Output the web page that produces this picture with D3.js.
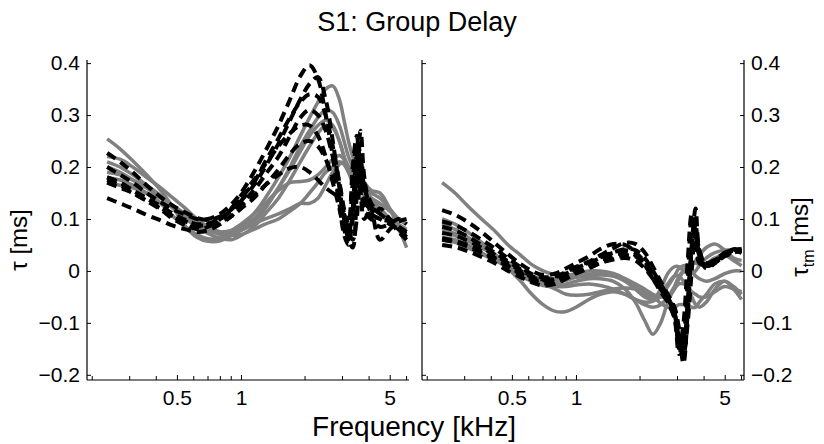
<!DOCTYPE html>
<html><head><meta charset="utf-8">
<script src="https://cdn.jsdelivr.net/npm/d3@7"></script>
<style>body{margin:0;background:#fff}svg{display:block}text{font-family:"Liberation Sans",Arial,sans-serif;fill:#000}</style>
</head><body>
<svg id="c" width="824" height="444"></svg>
<script>
const title = "S1: Group Delay";
const xLabel = "Frequency [kHz]";
const freq = [0.235,0.27,0.31,0.36,0.42,0.48,0.55,0.62,0.7,0.8,0.9,1.0,1.15,1.3,1.5,1.7,1.9,2.1,2.3,2.5,2.7,2.9,3.05,3.2,3.35,3.5,3.65,3.8,4.1,4.5,5.0,5.5,6.0];
const yTicks = [-0.2,-0.1,0,0.1,0.2,0.3,0.4];
const xMajor = [0.5,1,5];
const xMinor = [0.2,0.3,0.4,0.6,0.7,0.8,0.9,2,3,4,6];

const leftSolid = [
 [0.254,0.235,0.212,0.185,0.155,0.122,0.085,0.065,0.057,0.058,0.068,0.085,0.11,0.14,0.18,0.22,0.26,0.295,0.325,0.35,0.356,0.33,0.29,0.25,0.22,0.2,0.18,0.17,0.155,0.15,0.12,0.085,0.06],
 [0.22,0.215,0.2,0.18,0.16,0.14,0.12,0.1,0.085,0.075,0.072,0.078,0.095,0.12,0.16,0.2,0.24,0.27,0.295,0.31,0.305,0.28,0.25,0.22,0.2,0.18,0.16,0.15,0.135,0.12,0.1,0.08,0.07],
 [0.21,0.2,0.185,0.165,0.145,0.125,0.105,0.09,0.078,0.072,0.075,0.085,0.1,0.125,0.16,0.195,0.23,0.26,0.28,0.29,0.28,0.25,0.22,0.2,0.18,0.17,0.155,0.145,0.13,0.11,0.095,0.085,0.075],
 [0.2,0.19,0.175,0.16,0.14,0.12,0.1,0.085,0.072,0.063,0.06,0.068,0.085,0.11,0.14,0.175,0.21,0.24,0.265,0.28,0.275,0.25,0.22,0.19,0.17,0.15,0.14,0.13,0.12,0.11,0.1,0.09,0.08],
 [0.19,0.185,0.175,0.16,0.145,0.125,0.105,0.09,0.08,0.075,0.078,0.09,0.11,0.13,0.155,0.17,0.172,0.175,0.185,0.2,0.215,0.222,0.215,0.2,0.185,0.175,0.165,0.16,0.15,0.14,0.12,0.1,0.09],
 [0.18,0.175,0.165,0.15,0.13,0.105,0.085,0.07,0.062,0.063,0.07,0.078,0.09,0.1,0.11,0.12,0.13,0.13,0.14,0.165,0.19,0.205,0.21,0.2,0.19,0.18,0.17,0.16,0.14,0.12,0.1,0.08,0.045],
 [0.17,0.165,0.16,0.15,0.14,0.125,0.11,0.095,0.08,0.07,0.068,0.07,0.08,0.09,0.1,0.115,0.13,0.15,0.17,0.19,0.2,0.21,0.205,0.19,0.18,0.17,0.16,0.15,0.14,0.13,0.115,0.1,0.09]
];
const leftDashed = [
 [0.2,0.185,0.17,0.15,0.132,0.118,0.108,0.1,0.1,0.11,0.128,0.15,0.19,0.23,0.28,0.33,0.375,0.396,0.37,0.3,0.22,0.13,0.07,0.05,0.12,0.22,0.15,0.1,0.12,0.11,0.1,0.085,0.07],
 [0.227,0.21,0.19,0.165,0.142,0.125,0.112,0.102,0.098,0.105,0.118,0.135,0.165,0.2,0.245,0.29,0.33,0.36,0.373,0.33,0.25,0.16,0.1,0.06,0.045,0.15,0.27,0.18,0.11,0.1,0.09,0.08,0.065],
 [0.18,0.17,0.155,0.14,0.125,0.11,0.098,0.09,0.092,0.1,0.115,0.13,0.155,0.185,0.22,0.26,0.295,0.31,0.3,0.27,0.22,0.17,0.12,0.09,0.2,0.26,0.18,0.12,0.1,0.12,0.1,0.08,0.07],
 [0.17,0.16,0.15,0.135,0.12,0.105,0.095,0.088,0.088,0.095,0.105,0.12,0.14,0.165,0.195,0.225,0.245,0.25,0.24,0.215,0.18,0.14,0.1,0.07,0.13,0.23,0.2,0.14,0.1,0.085,0.09,0.1,0.09],
 [0.14,0.13,0.12,0.108,0.097,0.087,0.08,0.075,0.078,0.09,0.105,0.125,0.145,0.165,0.185,0.198,0.2,0.19,0.175,0.16,0.15,0.14,0.11,0.09,0.17,0.25,0.22,0.16,0.12,0.06,0.08,0.095,0.1],
 [0.18,0.17,0.155,0.14,0.122,0.105,0.09,0.08,0.085,0.1,0.12,0.145,0.175,0.205,0.24,0.265,0.28,0.28,0.26,0.22,0.17,0.12,0.08,0.06,0.1,0.18,0.22,0.17,0.13,0.11,0.095,0.075,0.06],
 [0.175,0.165,0.15,0.135,0.118,0.1,0.088,0.085,0.09,0.1,0.118,0.14,0.17,0.21,0.255,0.295,0.325,0.34,0.335,0.3,0.24,0.17,0.11,0.075,0.06,0.1,0.2,0.15,0.11,0.1,0.095,0.085,0.075]
];
const rightSolid = [
 [0.17,0.15,0.125,0.1,0.075,0.05,0.03,0.012,0.0,-0.008,-0.012,-0.012,-0.01,-0.008,-0.01,-0.015,-0.025,-0.035,-0.045,-0.05,-0.05,-0.035,-0.015,0.0,0.01,0.015,0.015,0.012,0.015,0.025,0.03,0.02,0.01],
 [0.1,0.09,0.075,0.055,0.03,0.005,-0.02,-0.045,-0.065,-0.078,-0.078,-0.07,-0.055,-0.045,-0.04,-0.045,-0.055,-0.065,-0.07,-0.065,-0.05,-0.03,-0.01,0.0,0.005,0.0,-0.01,-0.015,-0.02,-0.015,-0.005,0.0,0.0],
 [0.09,0.08,0.065,0.048,0.03,0.01,-0.005,-0.015,-0.022,-0.025,-0.025,-0.02,-0.015,-0.015,-0.02,-0.035,-0.06,-0.095,-0.122,-0.1,-0.06,-0.035,-0.025,-0.025,-0.03,-0.04,-0.045,-0.05,-0.05,-0.04,-0.03,-0.035,-0.04],
 [0.065,0.06,0.05,0.035,0.02,0.005,-0.01,-0.02,-0.028,-0.03,-0.03,-0.027,-0.025,-0.028,-0.035,-0.045,-0.055,-0.06,-0.058,-0.045,-0.025,-0.01,-0.01,-0.02,-0.035,-0.05,-0.065,-0.07,-0.06,-0.035,-0.02,-0.035,-0.055],
 [0.075,0.068,0.058,0.045,0.03,0.015,0.0,-0.01,-0.015,-0.015,-0.01,-0.005,0.0,0.0,-0.005,-0.015,-0.03,-0.045,-0.055,-0.05,-0.03,-0.01,0.005,0.01,0.01,0.012,0.02,0.03,0.045,0.052,0.04,0.025,0.02],
 [0.06,0.055,0.045,0.032,0.02,0.008,-0.005,-0.015,-0.025,-0.035,-0.045,-0.047,-0.045,-0.04,-0.035,-0.033,-0.035,-0.04,-0.05,-0.062,-0.07,-0.07,-0.065,-0.065,-0.065,-0.07,-0.07,-0.06,-0.045,-0.025,-0.02,-0.03,-0.045],
 [0.08,0.072,0.06,0.045,0.028,0.012,-0.003,-0.012,-0.018,-0.02,-0.018,-0.012,-0.006,-0.005,-0.01,-0.02,-0.035,-0.05,-0.055,-0.035,-0.005,0.008,0.008,0.0,-0.005,-0.005,0.0,0.01,0.025,0.035,0.04,0.04,0.04]
];
const rightDashed = [
 [0.117,0.108,0.094,0.075,0.052,0.032,0.013,0.0,-0.008,-0.005,0.005,0.015,0.028,0.042,0.052,0.05,0.036,0.012,-0.015,-0.04,-0.06,-0.09,-0.16,-0.13,-0.02,0.1,0.06,0.02,0.012,0.02,0.035,0.04,0.038],
 [0.095,0.088,0.076,0.06,0.042,0.024,0.007,-0.006,-0.012,-0.01,-0.002,0.008,0.018,0.03,0.044,0.054,0.052,0.036,0.008,-0.02,-0.045,-0.07,-0.12,-0.178,-0.08,0.05,0.12,0.04,0.01,0.018,0.032,0.042,0.04],
 [0.073,0.068,0.058,0.045,0.03,0.015,0.0,-0.012,-0.018,-0.015,-0.008,0.0,0.01,0.02,0.03,0.035,0.03,0.015,-0.008,-0.03,-0.05,-0.07,-0.11,-0.15,-0.06,0.04,0.09,0.03,0.005,0.015,0.03,0.04,0.042],
 [0.063,0.058,0.05,0.038,0.024,0.01,-0.004,-0.015,-0.02,-0.015,-0.005,0.005,0.015,0.025,0.035,0.04,0.035,0.018,-0.005,-0.028,-0.05,-0.075,-0.14,-0.12,-0.03,0.07,0.05,0.015,0.012,0.02,0.033,0.038,0.035],
 [0.05,0.046,0.038,0.027,0.014,0.0,-0.012,-0.022,-0.028,-0.025,-0.015,-0.005,0.005,0.015,0.022,0.025,0.02,0.005,-0.015,-0.035,-0.055,-0.08,-0.13,-0.16,-0.1,0.0,0.08,0.04,0.01,0.015,0.028,0.035,0.04],
 [0.085,0.078,0.066,0.05,0.034,0.018,0.003,-0.01,-0.016,-0.012,-0.004,0.006,0.016,0.026,0.036,0.042,0.04,0.025,0.0,-0.025,-0.05,-0.08,-0.15,-0.1,0.02,0.11,0.07,0.03,0.015,0.022,0.035,0.04,0.04],
 [0.06,0.055,0.047,0.035,0.022,0.008,-0.006,-0.018,-0.024,-0.022,-0.014,-0.004,0.006,0.015,0.024,0.03,0.028,0.015,-0.005,-0.03,-0.06,-0.09,-0.14,-0.155,-0.07,0.03,0.06,0.02,0.008,0.02,0.03,0.036,0.038]
];

const svg = d3.select("#c");
const xDomain = [0.189, 6.16];
const y = d3.scaleLinear().domain([-0.21, 0.406]).range([380, 60]);
const panels = [
  {x: d3.scaleLog().domain(xDomain).range([87, 409]), solid: leftSolid, dashed: leftDashed, leftLabels: true, rightAxis: false},
  {x: d3.scaleLog().domain(xDomain).range([422, 744]), solid: rightSolid, dashed: rightDashed, leftLabels: false, rightAxis: true}
];
const fmt = v => (v < 0 ? "\u2212" : "") + (v === 0 ? "0" : Math.abs(v).toFixed(1));

panels.forEach((p, i) => {
  const g = svg.append("g");
  const [x0, x1] = p.x.range();
  const clipId = "clip" + i;
  svg.append("clipPath").attr("id", clipId).append("rect")
    .attr("x", x0).attr("y", 40).attr("width", x1 - x0).attr("height", 345);
  const line = d3.line().x((d, k) => p.x(freq[k])).y(d => y(d)).curve(d3.curveCatmullRom.alpha(0.5));
  const lg = g.append("g").attr("clip-path", `url(#${clipId})`);
  p.solid.forEach(s => lg.append("path").attr("d", line(s)).attr("fill", "none")
    .attr("stroke", "#808080").attr("stroke-width", 3.5).attr("stroke-linejoin", "round"));
  p.dashed.forEach(s => lg.append("path").attr("d", line(s)).attr("fill", "none")
    .attr("stroke", "#000").attr("stroke-width", 4).attr("stroke-dasharray", "10,6"));

  const xb = d3.axisBottom(p.x).tickValues(xMajor).tickSize(-5).tickPadding(10).tickFormat(d3.format("~g"));
  const ax = g.append("g").attr("transform", "translate(0,380)").call(xb);
  ax.select(".domain").remove();
  ax.selectAll("text").attr("font-size", 21).attr("font-family", "Liberation Sans, Arial, sans-serif");
  ax.selectAll(".tick line").attr("stroke", "#000");
  g.selectAll(null).data(xMinor).enter().append("line")
    .attr("x1", d => p.x(d)).attr("x2", d => p.x(d)).attr("y1", 380).attr("y2", 376).attr("stroke", "#000");
  g.append("line").attr("x1", x0).attr("x2", x1).attr("y1", 380).attr("y2", 380).attr("stroke", "#000").attr("stroke-width", 1.2);

  const yl = d3.axisLeft(y).tickValues(yTicks).tickSize(-4).tickPadding(7).tickFormat(p.leftLabels ? fmt : () => "");
  const ay = g.append("g").attr("transform", `translate(${x0},0)`).call(yl);
  ay.select(".domain").remove();
  ay.selectAll("text").attr("font-size", 21).attr("font-family", "Liberation Sans, Arial, sans-serif");
  ay.selectAll(".tick line").attr("stroke", "#000");
  g.append("line").attr("x1", x0).attr("x2", x0).attr("y1", 60).attr("y2", 380).attr("stroke", "#000").attr("stroke-width", 1.2);

  if (p.rightAxis) {
    const yr = d3.axisRight(y).tickValues(yTicks).tickSize(-4).tickPadding(7).tickFormat(fmt);
    const ar = g.append("g").attr("transform", `translate(${x1},0)`).call(yr);
    ar.select(".domain").remove();
    ar.selectAll("text").attr("font-size", 21).attr("font-family", "Liberation Sans, Arial, sans-serif");
    ar.selectAll(".tick line").attr("stroke", "#000");
    g.append("line").attr("x1", x1).attr("x2", x1).attr("y1", 60).attr("y2", 380).attr("stroke", "#000").attr("stroke-width", 1.2);
  }
});

svg.append("text").attr("x", 417).attr("y", 31).attr("text-anchor", "middle").attr("font-size", 27).text(title);
svg.append("text").attr("x", 414).attr("y", 436).attr("text-anchor", "middle").attr("font-size", 28).text(xLabel);

const yl1 = svg.append("text").attr("transform", "translate(27,240) rotate(-90)").attr("text-anchor", "middle").attr("font-size", 24);
yl1.append("tspan").text("\u03c4 [ms]");
const yl2 = svg.append("text").attr("transform", "translate(808,237) rotate(-90)").attr("text-anchor", "middle").attr("font-size", 24);
yl2.append("tspan").text("\u03c4");
yl2.append("tspan").attr("font-size", 16).attr("dy", 6).text("tm");
yl2.append("tspan").attr("dy", -6).text(" [ms]");
</script>
</body></html>
